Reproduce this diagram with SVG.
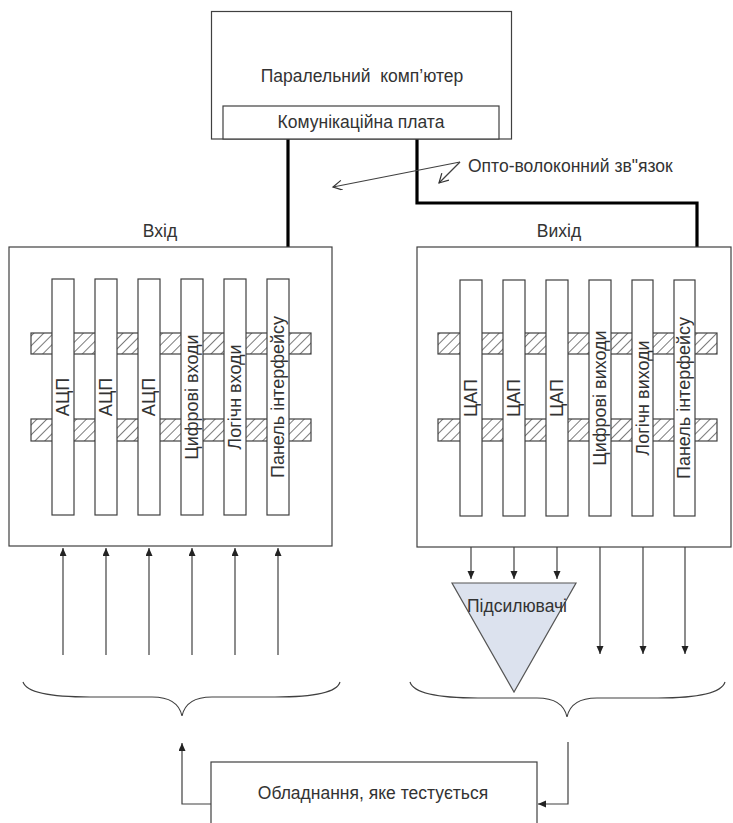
<svg xmlns="http://www.w3.org/2000/svg" width="733" height="823" viewBox="0 0 733 823">
<defs>
<style>
.box{fill:#fff;stroke:#404040;stroke-width:1.2}
.bar{fill:#fff;stroke:#404040;stroke-width:1.2}
.hatch{fill:url(#hp);stroke:#404040;stroke-width:1.2}
.ln{fill:none;stroke:#404040;stroke-width:1.2}
.thick{fill:none;stroke:#000;stroke-width:3.2}
.t{font-family:"Liberation Sans",Arial,sans-serif;fill:#333;font-size:17.5px}
.vt{font-family:"Liberation Sans",Arial,sans-serif;fill:#333;font-size:18px;text-anchor:middle}
</style>
<pattern id="hp" patternUnits="userSpaceOnUse" width="7" height="7" patternTransform="rotate(45)">
<rect width="7" height="7" fill="#fff"/>
<line x1="0" y1="0" x2="0" y2="7" stroke="#333" stroke-width="1.3"/>
</pattern>
<marker id="ah" markerUnits="userSpaceOnUse" markerWidth="10" markerHeight="10" refX="8" refY="3.5" orient="auto">
<path d="M0,0 L8,3.5 L0,7 z" fill="#222"/>
</marker>
<marker id="oh" markerUnits="userSpaceOnUse" markerWidth="12" markerHeight="12" refX="10" refY="5" orient="auto">
<path d="M1,0 L10,5 L1,10" fill="none" stroke="#333" stroke-width="1.2"/>
</marker>
</defs>
<rect width="733" height="823" fill="#fff"/>

<g id="connectors">
<path class="thick" d="M288,139 V247"/>
<path class="thick" d="M417,139 V203 H697 V247"/>
<path class="ln" d="M460,162 L333,187" marker-end="url(#oh)"/>
<path class="ln" d="M460,162 L439,183" marker-end="url(#oh)"/>
<g id="in-arrows">
<path class="ln" d="M63,655 V548" marker-end="url(#ah)"/>
<path class="ln" d="M106,655 V548" marker-end="url(#ah)"/>
<path class="ln" d="M149,655 V548" marker-end="url(#ah)"/>
<path class="ln" d="M192,655 V548" marker-end="url(#ah)"/>
<path class="ln" d="M235,655 V548" marker-end="url(#ah)"/>
<path class="ln" d="M278,655 V548" marker-end="url(#ah)"/>
</g>
<g id="out-arrows">
<path class="ln" d="M471,516 V579" marker-end="url(#ah)"/>
<path class="ln" d="M514,516 V579" marker-end="url(#ah)"/>
<path class="ln" d="M557,516 V579" marker-end="url(#ah)"/>
<path class="ln" d="M600,516 V654" marker-end="url(#ah)"/>
<path class="ln" d="M643,516 V654" marker-end="url(#ah)"/>
<path class="ln" d="M685,516 V654" marker-end="url(#ah)"/>
</g>
<path class="ln" d="M211,804 H182 V743" marker-end="url(#ah)"/>
<path class="ln" d="M568,742 V804 H538" marker-end="url(#ah)"/>
</g>

<g id="computer">
<rect class="box" x="211.5" y="11.5" width="300" height="127.5"/>
<text class="t" x="362" y="82" text-anchor="middle" font-size="18" xml:space="preserve" style="white-space:pre">Паралельний  комп’ютер</text>
<g id="comm-board">
<rect class="box" x="223" y="106" width="276" height="33"/>
<text class="t" x="361" y="128" text-anchor="middle" font-size="17">Комунікаційна плата</text>
</g>
</g>

<g id="fiber-label">
<text class="t" x="468" y="172">Опто-волоконний зв"язок</text>
</g>

<g id="input">
<text class="t" x="160" y="237" text-anchor="middle">Вхід</text>
<rect class="box" x="9" y="247" width="323" height="299"/>
<rect class="hatch" x="31" y="333" width="280" height="21"/>
<rect class="hatch" x="31" y="419" width="280" height="22"/>
<rect class="bar" x="52" y="279" width="22" height="236"/>
<rect class="bar" x="95" y="279" width="22" height="236"/>
<rect class="bar" x="138" y="279" width="22" height="236"/>
<rect class="bar" x="181" y="279" width="22" height="236"/>
<rect class="bar" x="224" y="279" width="22" height="236"/>
<rect class="bar" x="267" y="279" width="22" height="236"/>
<text class="vt" transform="translate(69,397) rotate(-90)">АЦП</text>
<text class="vt" transform="translate(112,397) rotate(-90)">АЦП</text>
<text class="vt" transform="translate(155,397) rotate(-90)">АЦП</text>
<text class="vt" transform="translate(198,397) rotate(-90)">Цифрові входи</text>
<text class="vt" transform="translate(241,397) rotate(-90)">Логічн входи</text>
<text class="vt" transform="translate(284,397) rotate(-90)">Панель інтерфейсу</text>
</g>

<g id="output">
<text class="t" x="559" y="237" text-anchor="middle">Вихід</text>
<rect class="box" x="417" y="247" width="314" height="300"/>
<rect class="hatch" x="438" y="333" width="279" height="21"/>
<rect class="hatch" x="438" y="419" width="279" height="22"/>
<rect class="bar" x="460" y="280" width="22" height="236"/>
<rect class="bar" x="503" y="280" width="22" height="236"/>
<rect class="bar" x="546" y="280" width="22" height="236"/>
<rect class="bar" x="589" y="280" width="22" height="236"/>
<rect class="bar" x="632" y="280" width="21" height="236"/>
<rect class="bar" x="674" y="280" width="21" height="236"/>
<text class="vt" transform="translate(477,398) rotate(-90)">ЦАП</text>
<text class="vt" transform="translate(520,398) rotate(-90)">ЦАП</text>
<text class="vt" transform="translate(563,398) rotate(-90)">ЦАП</text>
<text class="vt" transform="translate(606,398) rotate(-90)">Цифрові виходи</text>
<text class="vt" transform="translate(649,398) rotate(-90)">Логічн виходи</text>
<text class="vt" transform="translate(690,398) rotate(-90)">Панель інтерфейсу</text>
</g>

<g id="amplifiers">
<path d="M452,583 H576 L514,692 Z" fill="#dce2ee" stroke="#555" stroke-width="1.2"/>
<text class="t" x="517" y="612" text-anchor="middle" font-size="15.5">Підсилювачі</text>
</g>

<g id="braces">
<path class="ln" d="M23,682 Q28,697 90,697 L152,697 Q178,697 182,716 Q186,697 212,697 L275,697 Q336,697 340,682"/>
<path class="ln" d="M410,682 Q415,698 478,698 L537,698 Q563,698 567,717 Q571,698 597,698 L658,698 Q720,698 725,682"/>
</g>

<g id="dut">
<rect class="box" x="211" y="762" width="326" height="70"/>
<text class="t" x="373" y="799" text-anchor="middle" font-size="18">Обладнання, яке тестується</text>
</g>
</svg>
